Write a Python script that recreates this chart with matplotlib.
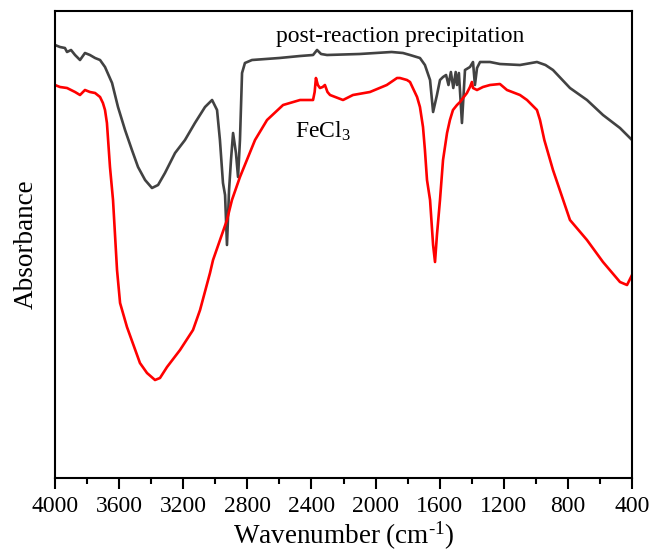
import matplotlib
matplotlib.use("Agg")
import matplotlib.pyplot as plt
from matplotlib.ticker import MultipleLocator

plt.rcParams['font.family'] = ['Liberation Serif', 'DejaVu Serif']
plt.rcParams['mathtext.fontset'] = 'custom'
plt.rcParams['mathtext.rm'] = 'Liberation Serif'
plt.rcParams['mathtext.it'] = 'Liberation Serif:italic'

# post-reaction precipitation (wavenumber, absorbance a.u.)
gray_wn = [4000, 3969, 3938, 3925, 3900, 3875, 3844, 3813, 3782, 3750, 3719, 3688,
           3644, 3607, 3563, 3520, 3482, 3438, 3395, 3357, 3314, 3251, 3189, 3127,
           3064, 3020, 2989, 2971, 2952, 2939, 2927, 2914, 2902, 2889, 2871, 2858,
           2846, 2833, 2815, 2771, 2600, 2471, 2390, 2365, 2340, 2303, 2100, 1900,
           1829, 1785, 1723, 1692, 1660, 1641, 1617, 1598, 1579, 1560, 1545, 1530,
           1515, 1500, 1492, 1480, 1461, 1442, 1411, 1392, 1380, 1367, 1348, 1286,
           1224, 1099, 993, 940, 893, 787, 681, 581, 475, 400]
gray_ab = [433, 431, 430, 426, 428, 423, 418, 425, 423, 420, 418, 411,
           395, 371, 348, 328, 311, 298, 290, 293, 305, 325, 338, 355,
           371, 378, 368, 338, 295, 283, 233, 288, 318, 345, 325, 301,
           338, 405, 415, 418, 420, 422, 423, 428, 424, 423, 424, 426,
           425, 423, 420, 413, 398, 366, 383, 398, 401, 403, 393, 406,
           390, 406, 393, 405, 355, 408, 411, 416, 393, 410, 416, 416,
           414, 413, 416, 413, 408, 390, 378, 363, 350, 338]

# FeCl3
red_wn = [4000, 3969, 3925, 3875, 3844, 3813, 3782, 3750, 3719, 3701, 3688, 3676,
          3657, 3638, 3613, 3594, 3551, 3470, 3426, 3376, 3345, 3301, 3220, 3139,
          3095, 3033, 3014, 2927, 2896, 2846, 2752, 2677, 2577, 2471, 2390, 2380,
          2372, 2360, 2347, 2330, 2316, 2300, 2284, 2203, 2141, 2035, 1930, 1866,
          1848, 1804, 1785, 1741, 1723, 1704, 1692, 1679, 1660, 1641, 1629, 1617,
          1598, 1579, 1554, 1536, 1517, 1492, 1473, 1454, 1430, 1411, 1399, 1392,
          1367, 1330, 1286, 1224, 1180, 1099, 1055, 993, 974, 947, 893, 787,
          681, 581, 475, 431, 400]
red_ab = [393, 391, 390, 386, 383, 388, 386, 385, 381, 375, 368, 355,
          311, 278, 208, 175, 151, 115, 105, 98, 100, 111, 128, 148,
          168, 205, 218, 258, 278, 301, 338, 358, 373, 378, 378, 386,
          400, 393, 390, 391, 393, 386, 383, 378, 383, 386, 393, 400,
          400, 398, 396, 381, 371, 351, 328, 298, 278, 233, 216, 243,
          278, 318, 345, 358, 368, 373, 376, 380, 385, 391, 396, 390,
          388, 391, 393, 394, 388, 383, 378, 368, 358, 338, 308, 258,
          238, 216, 196, 193, 203]

xticks = [4000, 3600, 3200, 2800, 2400, 2000, 1600, 1200, 800, 400]

fig = plt.figure(figsize=(6.52, 5.53), dpi=100)
ax = fig.add_axes([55/652, 1-478/553, (632-55)/652, (478-11)/553])

ax.plot(gray_wn, gray_ab, color='#424242', lw=1.9, solid_joinstyle='round')
ax.plot(red_wn, red_ab, color='#ff0000', lw=1.9, solid_joinstyle='round')

ax.set_xlim(4000, 400)
ax.set_ylim(0, 467)
ax.set_xticks(xticks)
ax.set_xticklabels([str(t) for t in xticks])
ax.xaxis.set_minor_locator(MultipleLocator(200))
ax.set_yticks([])
ax.tick_params(axis='x', which='major', direction='out', length=8, width=1.5,
               labelsize=17, pad=5)
ax.tick_params(axis='x', which='minor', direction='out', length=4, width=1.5)
for s in ax.spines.values():
    s.set_linewidth(1.5)

ax.set_xlabel(r'Wavenumber (cm$^{\mathregular{\text{-}1}}$)', fontsize=19.5, labelpad=2)
ax.set_ylabel('Absorbance', fontsize=19.5, labelpad=12)

ax.text(1848, 436, 'post-reaction precipitation', fontsize=17, ha='center',
        va='baseline')
ax.text(2503, 340, r'FeCl$_{\mathregular{3}}$', fontsize=17, ha='left', va='baseline')

fig.savefig('out.png', dpi=100)
